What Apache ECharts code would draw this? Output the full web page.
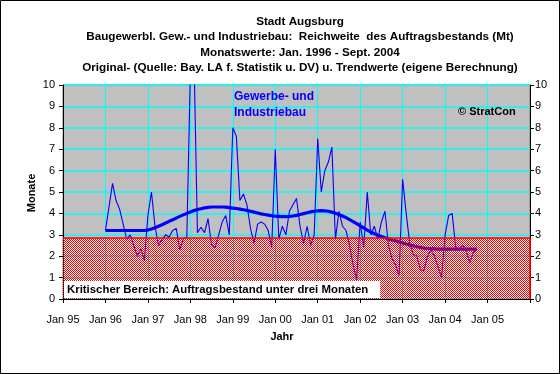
<!DOCTYPE html>
<html><head><meta charset="utf-8">
<script src="https://cdn.jsdelivr.net/npm/echarts@6/dist/echarts.min.js"></script>
<style>html,body{margin:0;padding:0;background:#fff}#c{width:560px;height:374px}</style>
</head><body><div id="c"></div>
<script>
// ---- data ----
const xTickLabels = ['Jan 95','Jan 96','Jan 97','Jan 98','Jan 99','Jan 00','Jan 01','Jan 02','Jan 03','Jan 04','Jan 05'];
const firstMonthOffset = 12; // Jan 96 = 12 months after Jan 95
const original = [
  3.2, 4.3, 5.4, 4.6, 4.2, 3.5, 2.8, 3.0, 2.5, 2.0, 2.35, 1.8,
  3.9, 5.0, 3.4, 2.5, 2.8, 3.0, 2.9, 3.2, 3.3, 2.3, 2.8, 2.9,
  10.6, 11.5, 3.1, 3.35, 3.1, 3.75, 2.5, 2.4, 3.0, 3.6, 3.9, 3.0,
  8.0, 7.6, 4.6, 4.9, 4.4, 3.3, 2.6, 3.5, 3.6, 3.5, 3.2, 2.4,
  7.0, 2.8, 3.4, 3.0, 4.1, 4.4, 4.7, 3.4, 2.6, 3.4, 2.5, 3.0,
  7.5, 5.0, 6.0, 6.4, 7.1, 2.8, 4.1, 3.4, 3.2, 2.5, 1.6, 0.9,
  3.6, 2.4, 5.0, 3.0, 3.4, 2.8, 3.6, 4.1, 2.5, 1.9, 1.6, 1.1,
  5.6, 4.0, 2.6, 2.1, 2.0, 1.4, 1.3, 2.0, 2.3, 2.0, 1.5, 1.0,
  3.0, 3.9, 4.0, 2.4, 2.3, 2.5, 2.2, 1.7, 2.2, 2.3
];
const trend = [
  3.2, 3.2, 3.2, 3.2, 3.2, 3.2, 3.2, 3.2, 3.2, 3.2, 3.2, 3.2,
  3.22, 3.27, 3.33, 3.4, 3.47, 3.55, 3.63, 3.7, 3.78, 3.86, 3.93, 4.0,
  4.07, 4.13, 4.18, 4.22, 4.26, 4.28, 4.3, 4.3, 4.3, 4.3, 4.29, 4.27,
  4.25, 4.23, 4.2, 4.17, 4.14, 4.1, 4.06, 4.02, 3.98, 3.95, 3.92, 3.89,
  3.87, 3.86, 3.85, 3.85, 3.86, 3.88, 3.91, 3.95, 3.99, 4.03, 4.07, 4.1,
  4.12, 4.13, 4.12, 4.1, 4.06, 4.01, 3.95, 3.88, 3.8, 3.71, 3.62, 3.52,
  3.42, 3.32, 3.22, 3.13, 3.05, 2.98, 2.92, 2.86, 2.81, 2.76, 2.72, 2.67,
  2.62, 2.57, 2.52, 2.48, 2.44, 2.41, 2.38, 2.36, 2.35, 2.34, 2.33, 2.33,
  2.33, 2.33, 2.33, 2.33, 2.33, 2.33, 2.33, 2.33, 2.33, 2.33
];
const criticalLevel = 2.85;
const xMax = 132;

// ---- chart ----
const FONT = '"Liberation Sans", Arial, sans-serif';
const pat = document.createElement('canvas');
pat.width = 2; pat.height = 2;
const pctx = pat.getContext('2d');
pctx.clearRect(0, 0, 2, 2);
pctx.fillStyle = '#FF0000';
pctx.fillRect(0, 0, 1, 1);
pctx.fillRect(1, 1, 1, 1);

const chart = echarts.init(document.getElementById('c'), null, {renderer: 'canvas'});
const axisCommon = {
  type: 'value', min: 0, max: 10, interval: 1, z: 2,
  axisLine: {show: true, lineStyle: {color: '#000', width: 1}},
  axisTick: {show: true, length: 4, lineStyle: {color: '#000'}},
  axisLabel: {color: '#000', fontSize: 11, fontFamily: FONT}
};
const zoneData = [[0, criticalLevel], [xMax, criticalLevel], [xMax, 0]];
const option = {
  animation: false,
  grid: {left: 63, top: 85, width: 467, height: 214, show: true,
         backgroundColor: '#C0C0C0', borderColor: '#808080', borderWidth: 1},
  xAxis: {
    type: 'value', min: 0, max: xMax, interval: 12, z: 2,
    axisLine: {show: true, onZero: false, lineStyle: {color: '#000'}},
    axisTick: {show: true, length: 4, lineStyle: {color: '#000'}},
    axisLabel: {color: '#000', fontSize: 11, fontFamily: FONT, margin: 15,
      formatter: v => (v < xMax ? (xTickLabels[v / 12] || '') : '')},
    splitLine: {show: true, lineStyle: {color: '#00FFFF', width: 1}}
  },
  yAxis: [
    Object.assign({}, axisCommon, {
      position: 'left',
      axisLabel: Object.assign({}, axisCommon.axisLabel, {margin: 8}),
      splitLine: {show: true, lineStyle: {color: '#00FFFF', width: 1.5}}
    }),
    Object.assign({}, axisCommon, {
      position: 'right',
      axisLabel: Object.assign({}, axisCommon.axisLabel, {margin: 5}),
      splitLine: {show: false}
    })
  ],
  series: [
    {type: 'line', z: 1, silent: true, symbol: 'none', data: zoneData,
     lineStyle: {width: 0, opacity: 0}, areaStyle: {color: '#FFFFFF', opacity: 1}},
    {type: 'line', name: 'Original', z: 5, showSymbol: false, symbol: 'none',
     data: original.map((v, i) => [firstMonthOffset + i, v]),
     lineStyle: {color: '#0000FF', width: 1.1}},
    {type: 'line', name: 'Trend', z: 6, showSymbol: false, symbol: 'none',
     data: trend.map((v, i) => [firstMonthOffset + i, v]),
     lineStyle: {color: '#0000FF', width: 3.2}},
    {type: 'line', z: 8, silent: true, symbol: 'none', data: zoneData,
     lineStyle: {color: '#FF0000', width: 1.5},
     areaStyle: {color: {image: pat, repeat: 'repeat'}, opacity: 1}}
  ],
  graphic: [
    {type: 'rect', z: 100, shape: {x: 0.5, y: 0.5, width: 559, height: 373},
     style: {fill: 'none', stroke: '#000', lineWidth: 1}},
    {type: 'text', z: 100, style: {text: 'Stadt Augsburg', x: 300, y: 21.5, align: 'center', verticalAlign: 'middle', font: 'bold 11.7px ' + FONT, fill: '#000'}},
    {type: 'text', z: 100, style: {text: 'Baugewerbl. Gew.- und Industriebau:  Reichweite  des Auftragsbestands (Mt)', x: 300, y: 37, align: 'center', verticalAlign: 'middle', font: 'bold 11.7px ' + FONT, fill: '#000'}},
    {type: 'text', z: 100, style: {text: 'Monatswerte: Jan. 1996 - Sept. 2004', x: 300, y: 52.5, align: 'center', verticalAlign: 'middle', font: 'bold 11.7px ' + FONT, fill: '#000'}},
    {type: 'text', z: 100, style: {text: 'Original- (Quelle: Bay. LA f. Statistik u. DV) u. Trendwerte (eigene Berechnung)', x: 300, y: 67.5, align: 'center', verticalAlign: 'middle', font: 'bold 11.7px ' + FONT, fill: '#000'}},
    {type: 'text', z: 100, style: {text: 'Jahr', x: 282, y: 337, align: 'center', verticalAlign: 'middle', font: 'bold 11px ' + FONT, fill: '#000'}},
    {type: 'text', z: 100, x: 32, y: 193, rotation: Math.PI / 2,
     style: {text: 'Monate', x: 0, y: 0, align: 'center', verticalAlign: 'middle', font: 'bold 11px ' + FONT, fill: '#000'}},
    {type: 'text', z: 100, style: {text: 'Gewerbe- und', x: 234, y: 97, align: 'left', verticalAlign: 'middle', font: 'bold 12px ' + FONT, fill: '#0000FF'}},
    {type: 'text', z: 100, style: {text: 'Industriebau', x: 234, y: 112.5, align: 'left', verticalAlign: 'middle', font: 'bold 12px ' + FONT, fill: '#0000FF'}},
    {type: 'text', z: 100, style: {text: '© StratCon', x: 458, y: 112, align: 'left', verticalAlign: 'middle', font: 'bold 11px ' + FONT, fill: '#000'}},
    {type: 'rect', z: 100, shape: {x: 64, y: 281, width: 316, height: 17}, style: {fill: '#FFFFFF'}},
    {type: 'text', z: 101, style: {text: 'Kritischer Bereich: Auftragsbestand unter drei Monaten', x: 67, y: 289.5, align: 'left', verticalAlign: 'middle', font: 'bold 11.4px ' + FONT, fill: '#000'}}
  ]
};
chart.setOption(option);
</script></body></html>
